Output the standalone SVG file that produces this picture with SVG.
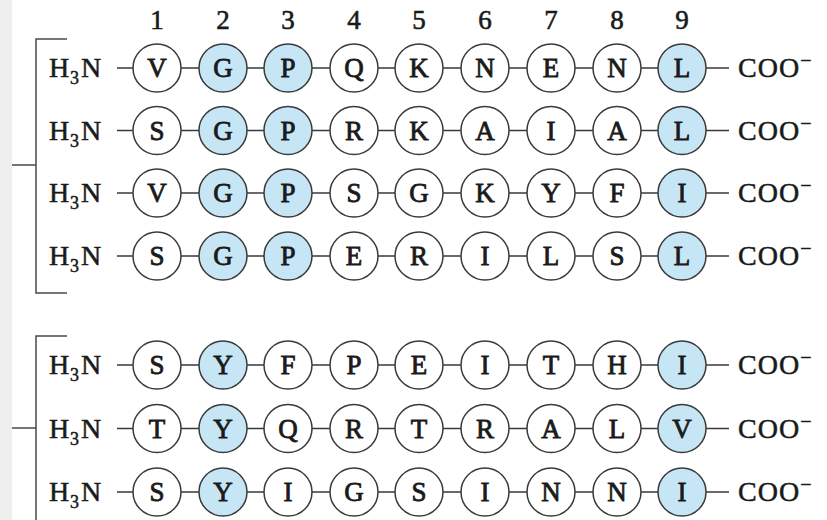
<svg xmlns="http://www.w3.org/2000/svg" xmlns:xlink="http://www.w3.org/1999/xlink" width="827" height="520" viewBox="0 0 827 520">
<style>
.n circle{fill:#ffffff;stroke:#3a3a3a;stroke-width:1.5}
.n.h circle{fill:#c6e6f6}
.n text{font-family:"Liberation Serif","Times New Roman",serif;font-size:27px;fill:#1a1a1a;text-anchor:middle;stroke:#1a1a1a;stroke-width:0.8}
.t{font-family:"Liberation Serif","Times New Roman",serif;font-size:28px;fill:#1a1a1a;stroke:#1a1a1a;stroke-width:0.5}
.num{font-family:"Liberation Serif","Times New Roman",serif;font-size:27px;fill:#1a1a1a;text-anchor:middle;stroke:#1a1a1a;stroke-width:0.6}
.c{fill:none;stroke:#3a3a3a;stroke-width:1.5}
.br{fill:none;stroke:#4a4a4a;stroke-width:1.5}
</style>
<defs>
<path id="rowline" d="M117 0H133M181 0H199M247 0H264M312 0H330M378 0H395M443 0H461M509 0H527M575 0H593M641 0H658M706 0H729"/>
</defs>
<rect x="0" y="0" width="827" height="520" fill="#ffffff"/>
<rect x="0" y="0" width="12" height="520" fill="#efefef"/>
<g id="brackets">
<path class="br" d="M67 39H36V293H67M12 165H36"/>
<path class="br" d="M67 336H36V521M12 428H36"/>
</g>
<g id="numbers">
<text class="num" x="157" y="29">1</text>
<text class="num" x="223" y="29">2</text>
<text class="num" x="288" y="29">3</text>
<text class="num" x="354" y="29">4</text>
<text class="num" x="419" y="29">5</text>
<text class="num" x="485" y="29">6</text>
<text class="num" x="551" y="29">7</text>
<text class="num" x="617" y="29">8</text>
<text class="num" x="682" y="29">9</text>
</g>
<g id="connectors" class="c">
<use xlink:href="#rowline" href="#rowline" transform="translate(0,68)"/>
<use xlink:href="#rowline" href="#rowline" transform="translate(0,130.5)"/>
<use xlink:href="#rowline" href="#rowline" transform="translate(0,193)"/>
<use xlink:href="#rowline" href="#rowline" transform="translate(0,256)"/>
<use xlink:href="#rowline" href="#rowline" transform="translate(0,365)"/>
<use xlink:href="#rowline" href="#rowline" transform="translate(0,428.5)"/>
<use xlink:href="#rowline" href="#rowline" transform="translate(0,492)"/>
</g>
<g id="termini">
<g id="n1"><text class="t" x="49" y="77">H<tspan x="70" dy="7" font-size="18">3</tspan><tspan x="81" dy="-7">N</tspan></text><text class="t" x="738" y="77" letter-spacing="1">COO<tspan dy="-10" font-size="20" letter-spacing="0">−</tspan></text></g>
<g id="n2"><text class="t" x="49" y="139.5">H<tspan x="70" dy="7" font-size="18">3</tspan><tspan x="81" dy="-7">N</tspan></text><text class="t" x="738" y="139.5" letter-spacing="1">COO<tspan dy="-10" font-size="20" letter-spacing="0">−</tspan></text></g>
<g id="n3"><text class="t" x="49" y="202">H<tspan x="70" dy="7" font-size="18">3</tspan><tspan x="81" dy="-7">N</tspan></text><text class="t" x="738" y="202" letter-spacing="1">COO<tspan dy="-10" font-size="20" letter-spacing="0">−</tspan></text></g>
<g id="n4"><text class="t" x="49" y="265">H<tspan x="70" dy="7" font-size="18">3</tspan><tspan x="81" dy="-7">N</tspan></text><text class="t" x="738" y="265" letter-spacing="1">COO<tspan dy="-10" font-size="20" letter-spacing="0">−</tspan></text></g>
<g id="n5"><text class="t" x="49" y="374">H<tspan x="70" dy="7" font-size="18">3</tspan><tspan x="81" dy="-7">N</tspan></text><text class="t" x="738" y="374" letter-spacing="1">COO<tspan dy="-10" font-size="20" letter-spacing="0">−</tspan></text></g>
<g id="n6"><text class="t" x="49" y="437.5">H<tspan x="70" dy="7" font-size="18">3</tspan><tspan x="81" dy="-7">N</tspan></text><text class="t" x="738" y="437.5" letter-spacing="1">COO<tspan dy="-10" font-size="20" letter-spacing="0">−</tspan></text></g>
<g id="n7"><text class="t" x="49" y="501">H<tspan x="70" dy="7" font-size="18">3</tspan><tspan x="81" dy="-7">N</tspan></text><text class="t" x="738" y="501" letter-spacing="1">COO<tspan dy="-10" font-size="20" letter-spacing="0">−</tspan></text></g>
</g>
<g id="row1">
<g id="r1c1" class="n"><circle cx="157" cy="68" r="24"/><text x="157" y="77">V</text></g>
<g id="r1c2" class="n h"><circle cx="223" cy="68" r="24"/><text x="223" y="77">G</text></g>
<g id="r1c3" class="n h"><circle cx="288" cy="68" r="24"/><text x="288" y="77">P</text></g>
<g id="r1c4" class="n"><circle cx="354" cy="68" r="24"/><text x="354" y="77">Q</text></g>
<g id="r1c5" class="n"><circle cx="419" cy="68" r="24"/><text x="419" y="77">K</text></g>
<g id="r1c6" class="n"><circle cx="485" cy="68" r="24"/><text x="485" y="77">N</text></g>
<g id="r1c7" class="n"><circle cx="551" cy="68" r="24"/><text x="551" y="77">E</text></g>
<g id="r1c8" class="n"><circle cx="617" cy="68" r="24"/><text x="617" y="77">N</text></g>
<g id="r1c9" class="n h"><circle cx="682" cy="68" r="24"/><text x="682" y="77">L</text></g>
</g>
<g id="row2">
<g id="r2c1" class="n"><circle cx="157" cy="130.5" r="24"/><text x="157" y="139.5">S</text></g>
<g id="r2c2" class="n h"><circle cx="223" cy="130.5" r="24"/><text x="223" y="139.5">G</text></g>
<g id="r2c3" class="n h"><circle cx="288" cy="130.5" r="24"/><text x="288" y="139.5">P</text></g>
<g id="r2c4" class="n"><circle cx="354" cy="130.5" r="24"/><text x="354" y="139.5">R</text></g>
<g id="r2c5" class="n"><circle cx="419" cy="130.5" r="24"/><text x="419" y="139.5">K</text></g>
<g id="r2c6" class="n"><circle cx="485" cy="130.5" r="24"/><text x="485" y="139.5">A</text></g>
<g id="r2c7" class="n"><circle cx="551" cy="130.5" r="24"/><text x="551" y="139.5">I</text></g>
<g id="r2c8" class="n"><circle cx="617" cy="130.5" r="24"/><text x="617" y="139.5">A</text></g>
<g id="r2c9" class="n h"><circle cx="682" cy="130.5" r="24"/><text x="682" y="139.5">L</text></g>
</g>
<g id="row3">
<g id="r3c1" class="n"><circle cx="157" cy="193" r="24"/><text x="157" y="202">V</text></g>
<g id="r3c2" class="n h"><circle cx="223" cy="193" r="24"/><text x="223" y="202">G</text></g>
<g id="r3c3" class="n h"><circle cx="288" cy="193" r="24"/><text x="288" y="202">P</text></g>
<g id="r3c4" class="n"><circle cx="354" cy="193" r="24"/><text x="354" y="202">S</text></g>
<g id="r3c5" class="n"><circle cx="419" cy="193" r="24"/><text x="419" y="202">G</text></g>
<g id="r3c6" class="n"><circle cx="485" cy="193" r="24"/><text x="485" y="202">K</text></g>
<g id="r3c7" class="n"><circle cx="551" cy="193" r="24"/><text x="551" y="202">Y</text></g>
<g id="r3c8" class="n"><circle cx="617" cy="193" r="24"/><text x="617" y="202">F</text></g>
<g id="r3c9" class="n h"><circle cx="682" cy="193" r="24"/><text x="682" y="202">I</text></g>
</g>
<g id="row4">
<g id="r4c1" class="n"><circle cx="157" cy="256" r="24"/><text x="157" y="265">S</text></g>
<g id="r4c2" class="n h"><circle cx="223" cy="256" r="24"/><text x="223" y="265">G</text></g>
<g id="r4c3" class="n h"><circle cx="288" cy="256" r="24"/><text x="288" y="265">P</text></g>
<g id="r4c4" class="n"><circle cx="354" cy="256" r="24"/><text x="354" y="265">E</text></g>
<g id="r4c5" class="n"><circle cx="419" cy="256" r="24"/><text x="419" y="265">R</text></g>
<g id="r4c6" class="n"><circle cx="485" cy="256" r="24"/><text x="485" y="265">I</text></g>
<g id="r4c7" class="n"><circle cx="551" cy="256" r="24"/><text x="551" y="265">L</text></g>
<g id="r4c8" class="n"><circle cx="617" cy="256" r="24"/><text x="617" y="265">S</text></g>
<g id="r4c9" class="n h"><circle cx="682" cy="256" r="24"/><text x="682" y="265">L</text></g>
</g>
<g id="row5">
<g id="r5c1" class="n"><circle cx="157" cy="365" r="24"/><text x="157" y="374">S</text></g>
<g id="r5c2" class="n h"><circle cx="223" cy="365" r="24"/><text x="223" y="374">Y</text></g>
<g id="r5c3" class="n"><circle cx="288" cy="365" r="24"/><text x="288" y="374">F</text></g>
<g id="r5c4" class="n"><circle cx="354" cy="365" r="24"/><text x="354" y="374">P</text></g>
<g id="r5c5" class="n"><circle cx="419" cy="365" r="24"/><text x="419" y="374">E</text></g>
<g id="r5c6" class="n"><circle cx="485" cy="365" r="24"/><text x="485" y="374">I</text></g>
<g id="r5c7" class="n"><circle cx="551" cy="365" r="24"/><text x="551" y="374">T</text></g>
<g id="r5c8" class="n"><circle cx="617" cy="365" r="24"/><text x="617" y="374">H</text></g>
<g id="r5c9" class="n h"><circle cx="682" cy="365" r="24"/><text x="682" y="374">I</text></g>
</g>
<g id="row6">
<g id="r6c1" class="n"><circle cx="157" cy="428.5" r="24"/><text x="157" y="437.5">T</text></g>
<g id="r6c2" class="n h"><circle cx="223" cy="428.5" r="24"/><text x="223" y="437.5">Y</text></g>
<g id="r6c3" class="n"><circle cx="288" cy="428.5" r="24"/><text x="288" y="437.5">Q</text></g>
<g id="r6c4" class="n"><circle cx="354" cy="428.5" r="24"/><text x="354" y="437.5">R</text></g>
<g id="r6c5" class="n"><circle cx="419" cy="428.5" r="24"/><text x="419" y="437.5">T</text></g>
<g id="r6c6" class="n"><circle cx="485" cy="428.5" r="24"/><text x="485" y="437.5">R</text></g>
<g id="r6c7" class="n"><circle cx="551" cy="428.5" r="24"/><text x="551" y="437.5">A</text></g>
<g id="r6c8" class="n"><circle cx="617" cy="428.5" r="24"/><text x="617" y="437.5">L</text></g>
<g id="r6c9" class="n h"><circle cx="682" cy="428.5" r="24"/><text x="682" y="437.5">V</text></g>
</g>
<g id="row7">
<g id="r7c1" class="n"><circle cx="157" cy="492" r="24"/><text x="157" y="501">S</text></g>
<g id="r7c2" class="n h"><circle cx="223" cy="492" r="24"/><text x="223" y="501">Y</text></g>
<g id="r7c3" class="n"><circle cx="288" cy="492" r="24"/><text x="288" y="501">I</text></g>
<g id="r7c4" class="n"><circle cx="354" cy="492" r="24"/><text x="354" y="501">G</text></g>
<g id="r7c5" class="n"><circle cx="419" cy="492" r="24"/><text x="419" y="501">S</text></g>
<g id="r7c6" class="n"><circle cx="485" cy="492" r="24"/><text x="485" y="501">I</text></g>
<g id="r7c7" class="n"><circle cx="551" cy="492" r="24"/><text x="551" y="501">N</text></g>
<g id="r7c8" class="n"><circle cx="617" cy="492" r="24"/><text x="617" y="501">N</text></g>
<g id="r7c9" class="n h"><circle cx="682" cy="492" r="24"/><text x="682" y="501">I</text></g>
</g>
</svg>
